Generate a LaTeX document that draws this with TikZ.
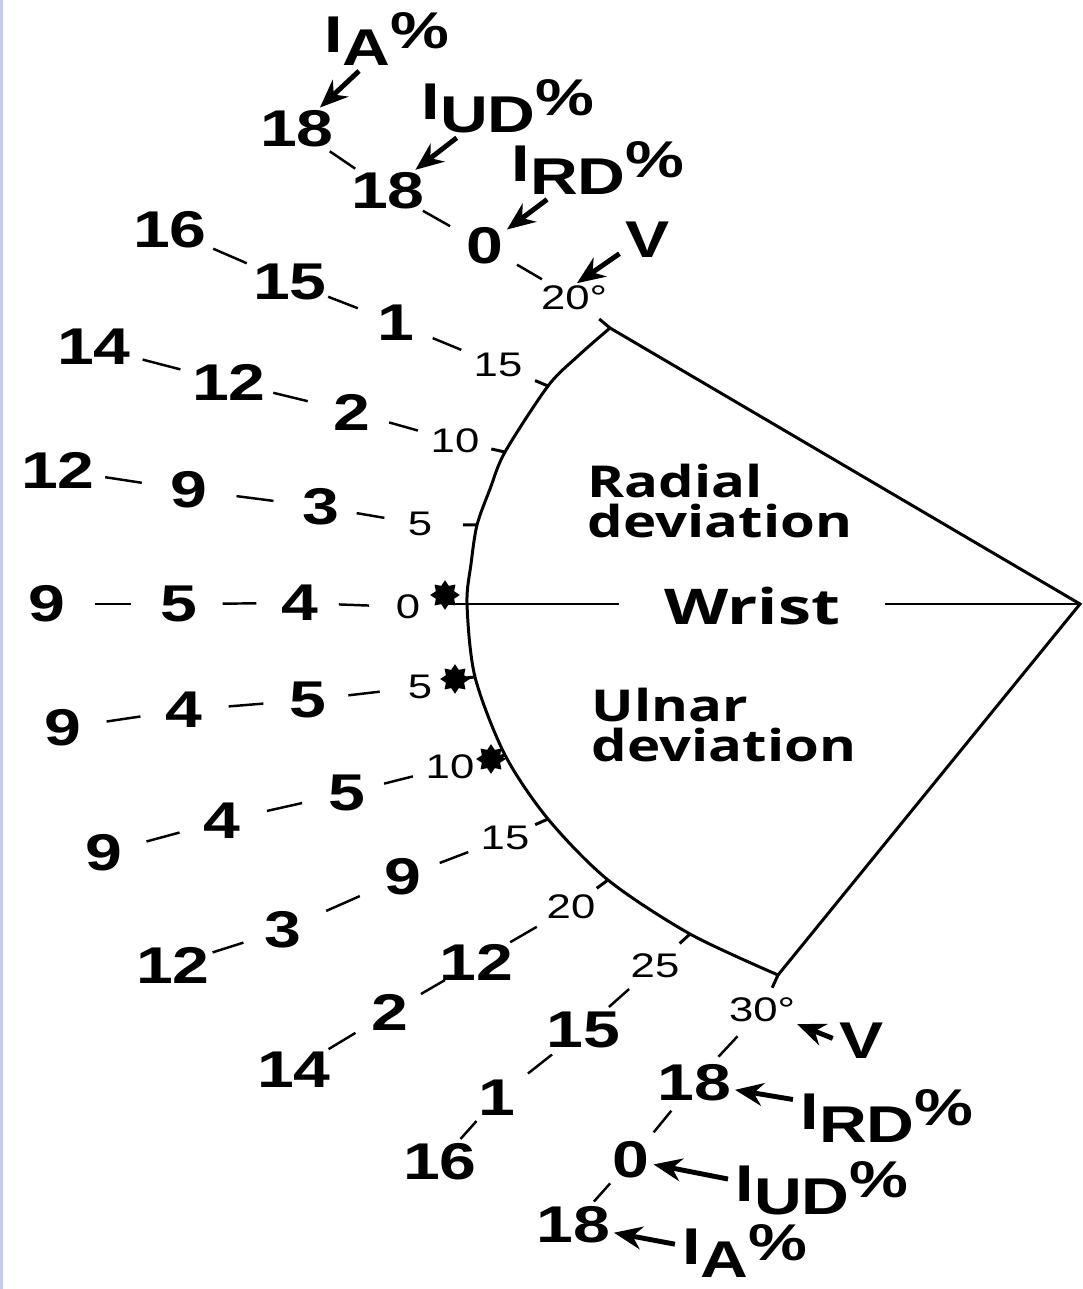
\documentclass[tikz,border=0pt]{standalone}
\usepackage{fontspec}
\setmainfont{Liberation Sans}[FakeStretch=1.28]
\newfontfamily\capfont{Open Sans}[FakeStretch=1.35]
\newfontfamily\devfont{Open Sans}[FakeStretch=1.28]
\usetikzlibrary{arrows.meta, calc, shapes.geometric}
\definecolor{EdgeBlue}{RGB}{196, 204, 238}
\newcommand{\ipct}[1]{I\raisebox{-.25em}{#1}\raisebox{.08em}{\%}}

\begin{document}
\begin{tikzpicture}[x=0.01cm, y=-0.01cm,
    num/.style={font=\bfseries\fontsize{14.7}{16}\selectfont, inner sep=0pt},
    deg/.style={font=\fontsize{9.7}{11}\selectfont, inner sep=0pt},
    ast/.style={star, star points=8, star point ratio=1.5, draw=black, fill=black, line width=1.2pt, inner sep=0pt, minimum size=0.22cm},
    dev/.style={font=\devfont\bfseries\fontsize{12.5}{11.4}\selectfont, align=left, anchor=west, inner sep=0pt},
    link/.style={line width=0.7pt},
    wline/.style={line width=0.85pt},
    ptr/.style={line width=1.4pt, -{Stealth[length=8pt, width=6.5pt]}, shorten <=2pt, shorten >=1pt}]
\useasboundingbox (0,0) rectangle (1083,1289);
\draw[EdgeBlue, line width=0.6pt] (1.5,0) -- (1.5,1289);

% points on the arc
\coordinate (p20) at (610,328);
\coordinate (p15) at (548,386);
\coordinate (p10) at (505,452);
\coordinate (p5) at (477,525);
\coordinate (p0) at (467,604);
\coordinate (q5) at (475,677);
\coordinate (q10) at (505,755);
\coordinate (q15) at (548,819);
\coordinate (q20) at (608,880);
\coordinate (q25) at (690,934);
\coordinate (q30) at (778,975);
\coordinate (apex) at (1080,604);

\draw[wline] plot[smooth] coordinates {(p20) (578,356) (p15) (p10) (490,489) (p5) (471,564) (p0) (q5) (q10) (q15) (q20) (q25) (q30)};
\draw[wline] (p20) -- (apex) -- (q30);

% radial side
\node[deg] (r20d) at (574,298) {20°};
\node[num] (r20a) at (485,246) {0};
\node[num] (r20b) at (388,191) {18};
\node[num] (r20c) at (297,129) {18};
\node[deg] (r15d) at (498,365) {15};
\node[num] (r15a) at (396,323) {1};
\node[num] (r15b) at (290,282) {15};
\node[num] (r15c) at (170,230) {16};
\node[deg] (r10d) at (455,441) {10};
\node[num] (r10a) at (352,412) {2};
\node[num] (r10b) at (229,382) {12};
\node[num] (r10c) at (94,347) {14};
\node[deg] (r5d) at (420,524) {5};
\node[num] (r5a) at (321,507) {3};
\node[num] (r5b) at (189,490) {9};
\node[num] (r5c) at (58,470) {12};
\node[deg] (r0d) at (408,607) {0};
\node[num] (r0a) at (300,603) {4};
\node[num] (r0b) at (179,604) {5};
\node[num] (r0c) at (47,604) {9};

% ulnar side
\node[deg] (u5d) at (420,687) {5};
\node[num] (u5a) at (308,700) {5};
\node[num] (u5b) at (184,710) {4};
\node[num] (u5c) at (63,728) {9};
\node[deg] (u10d) at (450,767) {10};
\node[num] (u10a) at (347,793) {5};
\node[num] (u10b) at (222,821) {4};
\node[num] (u10c) at (104,853) {9};
\node[deg] (u15d) at (505,838) {15};
\node[num] (u15a) at (403,877) {9};
\node[num] (u15b) at (283,930) {3};
\node[num] (u15c) at (173,965) {12};
\node[deg] (u20d) at (571,907) {20};
\node[num] (u20a) at (476,962) {12};
\node[num] (u20b) at (390,1012) {2};
\node[num] (u20c) at (294,1070) {14};
\node[deg] (u25d) at (655,966) {25};
\node[num] (u25a) at (583,1030) {15};
\node[num] (u25b) at (497,1098) {1};
\node[num] (u25c) at (440,1162) {16};
\node[deg] (u30d) at (762,1010) {30°};
\node[num] (u30a) at (694,1083) {18};
\node[num] (u30b) at (631,1160) {0};
\node[num] (u30c) at (573,1225) {18};

% asterisks
\node[ast] (s0) at (445,595) {};
\node[ast] (s5) at (455,679) {};
\node[ast] (s10) at (491,759) {};

% index labels
\node[num] (tIA) at (387,39) {\ipct{A}};
\node[num] (tIUD) at (508,106) {\ipct{UD}};
\node[num] (tIRD) at (598,168) {\ipct{RD}};
\node[num] (tV) at (648,240) {V};
\node[num] (bV) at (862,1041) {V};
\node[num] (bIRD) at (887,1116) {\ipct{RD}};
\node[num] (bIUD) at (822,1188) {\ipct{UD}};
\node[num] (bIA) at (745,1251) {\ipct{A}};

% inside the sector
\node[dev] (rad) at (587,501) {Radial\\deviation};
\node[dev] (uln) at (591,725) {Ulnar\\deviation};
\node[font=\capfont\bfseries\fontsize{14}{14}\selectfont, inner sep=0pt, minimum width=2.64cm] (wrist) at (752,606) {Wrist};

\draw[wline] (s0.center |- p0) -- (wrist.west |- p0);
\draw[wline] (wrist.east |- apex) -- (apex);

% ticks
\foreach \p/\l in {p20/r20d, p15/r15d, p10/r10d, p5/r5d, q15/u15d, q20/u20d, q25/u25d, q30/u30d}
  \draw[wline] (\p) -- ($(\p)!0.14cm!(\l)$);
\draw[wline] (q5) -- (s5.center);
\draw[wline] (q10) -- (s10.center);

% dashes between the values
\foreach \a/\b in {r20c/r20b, r20b/r20a, r20a/r20d, r15c/r15b, r15b/r15a, r15a/r15d,
    r10c/r10b, r10b/r10a, r10a/r10d, r5c/r5b, r5b/r5a, r5a/r5d, r0c/r0b, r0b/r0a, r0a/r0d,
    u5c/u5b, u5b/u5a, u5a/u5d, u10c/u10b, u10b/u10a, u10a/u10d, u15c/u15b, u15b/u15a, u15a/u15d,
    u20c/u20b, u20b/u20a, u20a/u20d, u25c/u25b, u25b/u25a, u25a/u25d, u30c/u30b, u30b/u30a, u30a/u30d}
  \draw[link] ($(\a)!.36!(\b)$) -- ($(\a)!.64!(\b)$);

% pointers
\draw[ptr] (tIA.-130) -- (r20c);
\draw[ptr] (tIUD.-149) -- (r20b);
\draw[ptr] (tIRD.-149) -- (r20a);
\draw[ptr] (tV.-157) -- (r20d.north);
\draw[ptr] (bV.west) -- (u30d);
\draw[ptr] (bIRD.170) -- (u30a);
\draw[ptr] (bIUD.175) -- (u30b);
\draw[ptr] (bIA.175) -- (u30c);
\end{tikzpicture}
\end{document}
